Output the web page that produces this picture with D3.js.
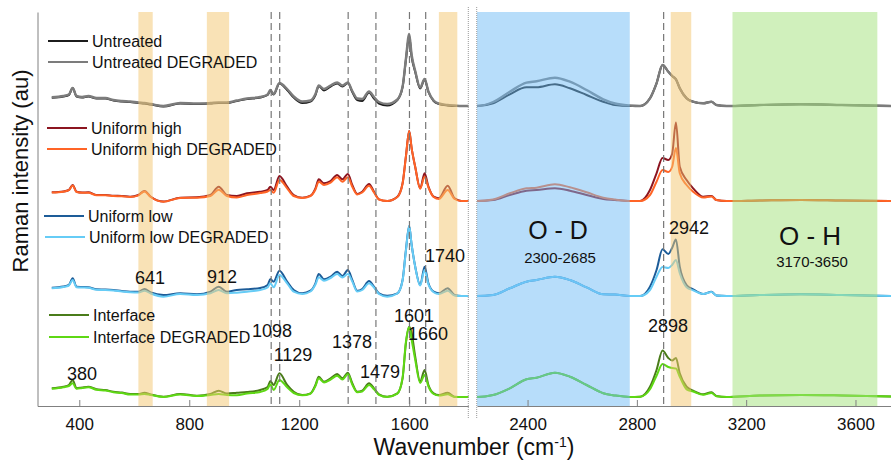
<!DOCTYPE html>
<html>
<head>
<meta charset="utf-8">
<script src="https://cdn.jsdelivr.net/npm/d3@7"></script>
<style>
  body { margin: 0; background: #fff; }
  text { font-family: "Liberation Sans", Arial, sans-serif; fill: #111; }
</style>
</head>
<body>
<script>
// wavenumber grid (cm-1) shared by all spectra
const wavenumbers = [300, 342, 362, 376, 390, 410, 433, 463, 495, 524,
  555, 585, 615, 637, 660, 706, 767, 828, 877, 907,
  937, 973, 1010, 1058, 1085, 1095, 1107, 1128, 1156, 1180,
  1211, 1241, 1259, 1271, 1290, 1314, 1338, 1357, 1377, 1393,
  1411, 1429, 1454, 1472, 1490, 1520, 1557, 1576, 1588, 1600,
  1609, 1622, 1640, 1656, 1670, 1689, 1708, 1740, 1765, 1790,
  1815, 2215, 2274, 2335, 2396, 2433, 2500, 2555, 2616, 2677,
  2720, 2774, 2812, 2848, 2872, 2894, 2915, 2929, 2943, 2957,
  2982, 3006, 3043, 3073, 3091, 3128, 3250, 3400, 3550, 3730];

// intensities (au) above each spectrum's own baseline
const untreated = [8.3, 9.5, 11, 18, 9.5, 8.5, 9.5, 7.5, 7.5, 5.5,
  4.5, 4, 3, 2.5, 1.5, -0.5, 2.5, 2, 2.5, 3,
  3, 5, 7, 8.5, 11, 15.5, 11.5, 22.5, 16, 8.5,
  3, 4.5, 11, 20, 15.5, 19.5, 22.5, 19.5, 23, 14,
  6, 5, 13.5, 7.5, 2.5, 0.5, 6, 19, 46, 70,
  49, 34, 17.5, 26.5, 14, 5, 2, 0.5, 0, 0,
  0, 0, 2.7, 11.7, 18.7, 18.7, 21.7, 17.7, 11, 4.3,
  1, 0, 0, 7.7, 22.7, 41, 34.3, 30, 26.7, 17.7,
  7.7, 4.3, 2.7, 4.3, 1, 0, 1, 1.7, 1, 0];
const untreatedDegraded = [8.8, 10, 11.5, 18, 10, 9, 10, 8, 8, 6,
  5, 4.5, 3.5, 3, 2, 0, 3, 2.5, 3, 3.5,
  3.5, 5.5, 7.5, 9, 11.5, 16, 12, 23, 17, 9.5,
  4.5, 5.5, 12, 20.5, 17, 20.5, 23.5, 20.5, 23.5, 15,
  7.5, 7, 14.5, 9, 4, 2, 6.5, 19.5, 47, 72,
  51, 35, 18.5, 27, 14.5, 5.5, 2.5, 1, 0.5, 0,
  0, 0, 4, 14.3, 23.3, 24.7, 28.3, 24.3, 16, 6.7,
  2.5, 0.5, 0, 7.7, 22.7, 41, 34.3, 30, 26.7, 17.7,
  7.7, 4.3, 2.7, 4.3, 1, 0, 1, 1.7, 1, 0];
const uniformHigh = [8.7, 9.5, 11, 16, 9.3, 8.5, 8.7, 6, 6, 5.3,
  5, 4.3, 6, 10, 4.3, -0.5, 3.3, 3.7, 6, 14.3,
  6, 5, 7.7, 9.3, 11, 14.3, 11, 25, 14.3, 6,
  3.3, 5.3, 12.7, 21.7, 17.7, 20, 26, 21.7, 27, 16,
  7, 9.3, 17, 9.3, 1.7, 0, 4.3, 17.7, 44.3, 70,
  52.7, 34, 12.7, 27.7, 14.3, 4.3, 2.7, 15.3, 2.7, 0,
  0, 0, 1, 6, 10.3, 11, 12.7, 10.3, 6, 2,
  1, 0, 0, 11, 27.7, 43, 41, 47, 78.5, 34.3,
  21, 12.7, 4.3, 5, 1, 0, 0.5, 1, 0.5, 0];
const uniformHighDegraded = [8.5, 9.3, 10.8, 15.5, 9, 8.3, 8.3, 5.7, 5.7, 5,
  4.7, 4, 5.7, 9.5, 4, -0.7, 3, 3.3, 5, 11.3,
  5, 3.5, 6, 8, 9.5, 11, 8.3, 21, 12.7, 5,
  3, 5, 11.5, 19.3, 16, 18.3, 23.7, 19.3, 23.7, 14.3,
  6.5, 8.5, 15.3, 8.5, 1.5, 0, 4, 17.5, 44.3, 70,
  52.7, 34, 12.3, 24.3, 13.5, 4, 2, 11, 2, 0,
  0, 0, 1.5, 7.7, 12.7, 13.3, 16.7, 13.7, 8.7, 3.3,
  1.5, 0, 0, 6, 19.3, 31, 29, 34, 53, 27.7,
  16, 9.3, 3.5, 4.5, 1, 0, 0.5, 1, 0.5, 0];
const uniformLow = [8.3, 9.5, 11, 17.7, 9.3, 9, 8.7, 6.7, 6.5, 6,
  5, 4.3, 4.3, 7, 3.5, 1, 2.7, 1.7, 4.3, 9.3,
  4.3, 6, 6.7, 8, 11, 17, 14.3, 25.3, 14.3, 6,
  2.7, 5.3, 12.7, 22, 16.7, 19.3, 24.3, 20, 26, 16,
  5.3, 7, 15, 9.3, 2.7, 0.3, 2.7, 16, 46, 70,
  51, 29.3, 11, 29.3, 12.7, 4.3, 2.7, 7.7, 1, 0,
  0, 0, 1, 7.7, 14.3, 16, 19.3, 16, 8.7, 1.7,
  1.5, 0, 0, 9.3, 26, 46.7, 42, 48, 56.5, 29.3,
  11, 6.7, 2, 4.3, 0.5, 0, 1, 1.7, 1, 0];
const uniformLowDegraded = [7.8, 9, 10.5, 16, 8.8, 8.5, 8.2, 6.2, 6, 5.5,
  4.5, 3.8, 3.5, 5.3, 2.5, -0.7, 2, 1, 2.7, 6,
  2.7, 3.3, 4.3, 6, 8.5, 12.7, 8.7, 21, 12.7, 4.3,
  2, 4.5, 11.5, 18.7, 15.3, 18, 22, 18.5, 22, 14.5,
  4.5, 6, 12.7, 8.5, 2, -0.7, 2.5, 15.5, 45, 70,
  51, 29, 10.5, 26, 11.5, 3.8, 2, 5.3, 0.5, 0,
  0, 0, 1, 7.7, 14.3, 16, 19.3, 16, 8.7, 1.7,
  1.5, 0, 0, 6, 19.3, 29, 28, 31, 36, 22.7,
  8.7, 5.7, 2, 4, 0.5, 0, 1, 1.7, 1, 0];
const interfaceRaw = [8.7, 10.3, 12, 17, 8.7, 9.5, 10.3, 7.7, 7, 5.3,
  4.5, 3, 3, 4.3, 2.5, 0.3, 3, 1.3, 3, 6.3,
  3.5, 4.3, 5, 7, 10, 16, 12, 23.7, 12, 5.3,
  2, 3.7, 12, 20.3, 15.3, 18.7, 23, 18.7, 24.3, 13.7,
  5.3, 6.3, 13.7, 8.7, 2.7, 0.3, 3.7, 18.7, 53.7, 70.3,
  63.7, 40.3, 15.3, 27, 12, 3.7, 2, 4.3, 0.3, 0,
  0, 0, 2, 8.7, 17.7, 19.3, 24.3, 20.3, 12, 3.7,
  1.5, 0, 0.3, 10.3, 27, 46.5, 39, 36.5, 39, 23.7,
  10.3, 6.3, 2.7, 4.7, 1, 0, 1.5, 2, 1.5, 0.5];
const interfaceDegraded = [8.2, 9.8, 11, 13.7, 8.2, 9, 9.8, 7.2, 6.5, 4.8,
  4, 2.5, 2.5, 3, 2, 0, 2.5, 1, 2, 3,
  2, 1.7, 3.5, 5, 8, 12.7, 7, 17, 9.7, 4,
  1.7, 3.3, 11, 18.7, 14.5, 17.5, 21.3, 17.5, 22.7, 12.5,
  4.8, 5.5, 12, 7.8, 2.2, 0, 3.3, 19.5, 55, 70.3,
  57, 37, 14, 22, 10.5, 3, 1.5, 2.7, 0, 0,
  0, 0, 2, 8.7, 17.7, 19.3, 24.3, 20.3, 12, 3.7,
  1.5, 0, 0.3, 7.7, 21.3, 33, 30, 29, 28.5, 20.3,
  7.7, 5.5, 2.2, 4, 0.8, 0, 1.5, 2, 1.5, 0.5];

const seriesNames = ["Untreated", "Untreated DEGRADED", "Uniform high", "Uniform high DEGRADED",
  "Uniform low", "Uniform low DEGRADED", "Interface", "Interface DEGRADED"];
const seriesValues = [untreated, untreatedDegraded, uniformHigh, uniformHighDegraded,
  uniformLow, uniformLowDegraded, interfaceRaw, interfaceDegraded];
// vertical stacking offset (au) of each spectrum
const stackOffsets = [291, 291, 196, 196, 101, 101, 0, 0];

const xTicksLeft = [400, 800, 1200, 1600];
const xTicksRight = [2400, 2800, 3200, 3600];
const dashedPeaks = [1098, 1129, 1378, 1479, 1601, 1660, 2898];
const orangeBands = [[615, 667], [864, 945], [1708, 1775], [2924, 2999]];
const odBand = [2215, 2774];
const ohBand = [3150, 3680];

const colors = ["#1c1c1c", "#7c7c7c", "#8c1520", "#ff6426",
  "#1d5c98", "#66ccf6", "#4a7c1a", "#5ed814"];

const W = 891, H = 461;
const svg = d3.select("body").append("svg")
  .attr("width", W)
  .attr("height", H);

const plotTop = 12, plotBottom = 406;
const xLeft = d3.scaleLinear().domain([248, 1815]).range([37.5, 468.3]);
const xRight = d3.scaleLinear().domain([2215, 3730]).range([477, 891]);
const y = d3.scaleLinear().domain([-9, 385]).range([plotBottom, plotTop]);

// clip paths for the two panels
const defs = svg.append("defs");
defs.append("clipPath").attr("id", "clipL").append("rect")
  .attr("x", xLeft.range()[0]).attr("y", 0)
  .attr("width", xLeft.range()[1] - xLeft.range()[0]).attr("height", plotBottom);
defs.append("clipPath").attr("id", "clipR").append("rect")
  .attr("x", xRight.range()[0]).attr("y", 0)
  .attr("width", xRight.range()[1] - xRight.range()[0]).attr("height", plotBottom);

const panels = [
  { x: xLeft, clip: "url(#clipL)", ticks: xTicksLeft },
  { x: xRight, clip: "url(#clipR)", ticks: xTicksRight }
];

// spectra
panels.forEach(p => {
  const g = svg.append("g").attr("clip-path", p.clip);
  seriesValues.forEach((vals, i) => {
    const line = d3.line()
      .x((d, k) => p.x(wavenumbers[k]))
      .y(d => y(d + stackOffsets[i]))
      .curve(d3.curveMonotoneX);
    g.append("path")
      .datum(vals)
      .attr("d", line)
      .attr("fill", "none")
      .attr("stroke", colors[i])
      .attr("stroke-width", i == 1 ? 2.4 : 2)
      .attr("stroke-linejoin", "round");
  });

  // shaded bands, drawn over the lines with transparency
  const bands = orangeBands.map(b => ({ r: b, c: "#f4c56e" }));
  bands.push({ r: odBand, c: "#70bcf6" });
  bands.push({ r: ohBand, c: "#a2e27a" });
  g.selectAll(null)
    .data(bands)
    .join("rect")
    .attr("x", d => p.x(d.r[0]))
    .attr("width", d => p.x(d.r[1]) - p.x(d.r[0]))
    .attr("y", plotTop)
    .attr("height", plotBottom - plotTop)
    .attr("fill", d => d.c)
    .attr("opacity", 0.5);

  // dashed peak markers
  g.selectAll(null)
    .data(dashedPeaks)
    .join("line")
    .attr("x1", d => p.x(d)).attr("x2", d => p.x(d))
    .attr("y1", plotTop).attr("y2", plotBottom)
    .attr("stroke", "#777")
    .attr("stroke-width", 1.2)
    .attr("stroke-dasharray", "7,4");

  // bottom axis
  const ax = svg.append("g")
    .attr("transform", `translate(0,${plotBottom})`)
    .call(d3.axisBottom(p.x)
      .tickValues(p.ticks)
      .tickFormat(d3.format("d"))
      .tickSizeInner(-6)
      .tickSizeOuter(0)
      .tickPadding(11.5));
  ax.select(".domain").attr("stroke", "#808080");
  ax.selectAll(".tick line").attr("stroke", "#808080");
  ax.selectAll(".tick text")
    .style("font-family", '"Liberation Sans", Arial, sans-serif')
    .style("font-size", "17px")
    .attr("fill", "#111");
});

// left axis
const ay = svg.append("g")
  .attr("transform", `translate(${xLeft.range()[0]},0)`)
  .call(d3.axisLeft(y).tickValues([]).tickSizeOuter(0));
ay.select(".domain").attr("stroke", "#808080");

// axis break markers
[468.3, 476.7].forEach(bx => {
  svg.append("line")
    .attr("x1", bx).attr("x2", bx)
    .attr("y1", 7).attr("y2", 418)
    .attr("stroke", "#999")
    .attr("stroke-width", 1)
    .attr("stroke-dasharray", "1,1");
});

// legend
const legendY = [41, 62, 128, 149, 216, 237, 315, 337];
const legendX = [48, 48, 47, 47, 44, 45, 49, 49];
seriesNames.forEach((name, i) => {
  svg.append("line")
    .attr("x1", legendX[i]).attr("x2", legendX[i] + 40)
    .attr("y1", legendY[i]).attr("y2", legendY[i])
    .attr("stroke", colors[i])
    .attr("stroke-width", 2.2);
  svg.append("text")
    .attr("x", legendX[i] + 44)
    .attr("y", legendY[i])
    .attr("dy", "0.36em")
    .style("font-size", "16px")
    .text(name);
});

// peak labels
const peakText = [
  ["380", 82, 380], ["641", 150, 284], ["912", 222, 283], ["1098", 272, 337],
  ["1129", 293, 361], ["1378", 352, 348], ["1479", 380, 378], ["1601", 414, 322],
  ["1660", 428, 340], ["1740", 445, 262], ["2942", 689, 234], ["2898", 668, 332]
];
svg.selectAll(null)
  .data(peakText)
  .join("text")
  .attr("x", d => d[1])
  .attr("y", d => d[2])
  .attr("text-anchor", "middle")
  .style("font-size", "18px")
  .text(d => d[0]);

// region labels
svg.append("text").attr("x", 558).attr("y", 239).attr("text-anchor", "middle")
  .style("font-size", "25px").text("O - D");
svg.append("text").attr("x", 560).attr("y", 263).attr("text-anchor", "middle")
  .style("font-size", "15px").text("2300-2685");
svg.append("text").attr("x", 810).attr("y", 245).attr("text-anchor", "middle")
  .style("font-size", "26px").text("O - H");
svg.append("text").attr("x", 812).attr("y", 267).attr("text-anchor", "middle")
  .style("font-size", "15px").text("3170-3650");

// axis titles
svg.append("text")
  .attr("transform", "translate(28,171) rotate(-90)")
  .attr("text-anchor", "middle")
  .style("font-size", "22px")
  .text("Raman intensity (au)");

const xt = svg.append("text")
  .attr("x", 474).attr("y", 455)
  .attr("text-anchor", "middle")
  .style("font-size", "23px");
xt.append("tspan").text("Wavenumber (cm");
xt.append("tspan").attr("dy", -8).style("font-size", "14px").text("-1");
xt.append("tspan").attr("dy", 8).text(")");
</script>
</body>
</html>
